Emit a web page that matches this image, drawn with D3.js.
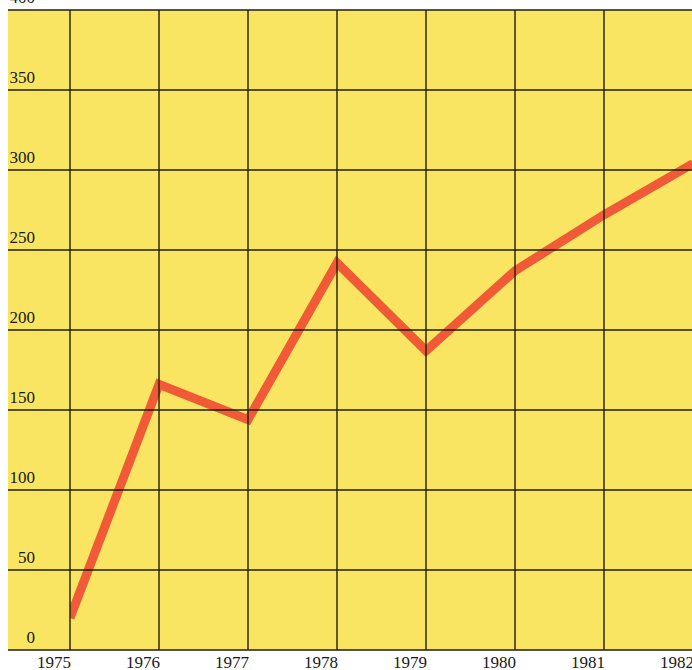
<!DOCTYPE html>
<html>
<head>
<meta charset="utf-8">
<script src="https://cdn.jsdelivr.net/npm/d3@7"></script>
<style>
  body { margin: 0; background: #fff; }
  svg { display: block; }
  .tick-label { font-family: "Liberation Serif", "Times New Roman", serif; font-size: 17px; fill: #1a1a1a; }
</style>
</head>
<body>
<div id="chart"></div>
<script>
// Data
const years = [1975, 1976, 1977, 1978, 1979, 1980, 1981, 1982];
const values = [20, 166, 144, 242, 187, 237, 272, 304];
const yTicks = [0, 50, 100, 150, 200, 250, 300, 350, 400];

const width = 692;
const height = 670;

const svg = d3.select("#chart")
    .append("svg")
    .attr("width", width)
    .attr("height", height);

// Scales: the grid spans x 70..693, y 650..10
const xScale = d3.scaleLinear().domain([1975, 1982]).range([70, 693]);
const yScale = d3.scaleLinear().domain([0, 400]).range([650, 10]);

// Yellow panel
svg.append("rect")
    .attr("x", 8)
    .attr("y", yScale(400))
    .attr("width", width - 8)
    .attr("height", yScale(0) - yScale(400))
    .attr("fill", "#f9e562");

// Line is cut at the first year's grid line and the panel edges
svg.append("clipPath")
    .attr("id", "panel")
    .append("rect")
    .attr("x", xScale(1975))
    .attr("y", yScale(400))
    .attr("width", width - xScale(1975))
    .attr("height", yScale(0) - yScale(400));

// The data line (drawn under the grid, as in the print)
const line = d3.line()
    .x((d, i) => xScale(years[i]))
    .y(d => yScale(d));

svg.append("path")
    .datum(values)
    .attr("clip-path", "url(#panel)")
    .attr("d", line)
    .attr("fill", "none")
    .attr("stroke", "#f05a36")
    .attr("stroke-width", 9)
    .attr("stroke-linejoin", "miter");

// Grid lines
const grid = svg.append("g").attr("stroke", "#1e1e14").attr("stroke-width", 1.4);

grid.selectAll("line.h")
    .data(yTicks)
    .join("line")
    .attr("class", "h")
    .attr("x1", 8)
    .attr("x2", width)
    .attr("y1", d => yScale(d))
    .attr("y2", d => yScale(d));

grid.selectAll("line.v")
    .data(years)
    .join("line")
    .attr("class", "v")
    .attr("x1", d => xScale(d))
    .attr("x2", d => xScale(d))
    .attr("y1", yScale(400))
    .attr("y2", yScale(0));

// Y labels, sitting just above their grid line
svg.selectAll("text.y")
    .data(yTicks)
    .join("text")
    .attr("class", "tick-label y")
    .attr("x", 35)
    .attr("y", d => yScale(d) - 7)
    .attr("text-anchor", "end")
    .text(d => d);

// X labels, right-aligned to the grid line
svg.selectAll("text.x")
    .data(years)
    .join("text")
    .attr("class", "tick-label x")
    .attr("x", d => xScale(d) + 1)
    .attr("y", 668)
    .attr("text-anchor", "end")
    .text(d => d);
</script>
</body>
</html>
